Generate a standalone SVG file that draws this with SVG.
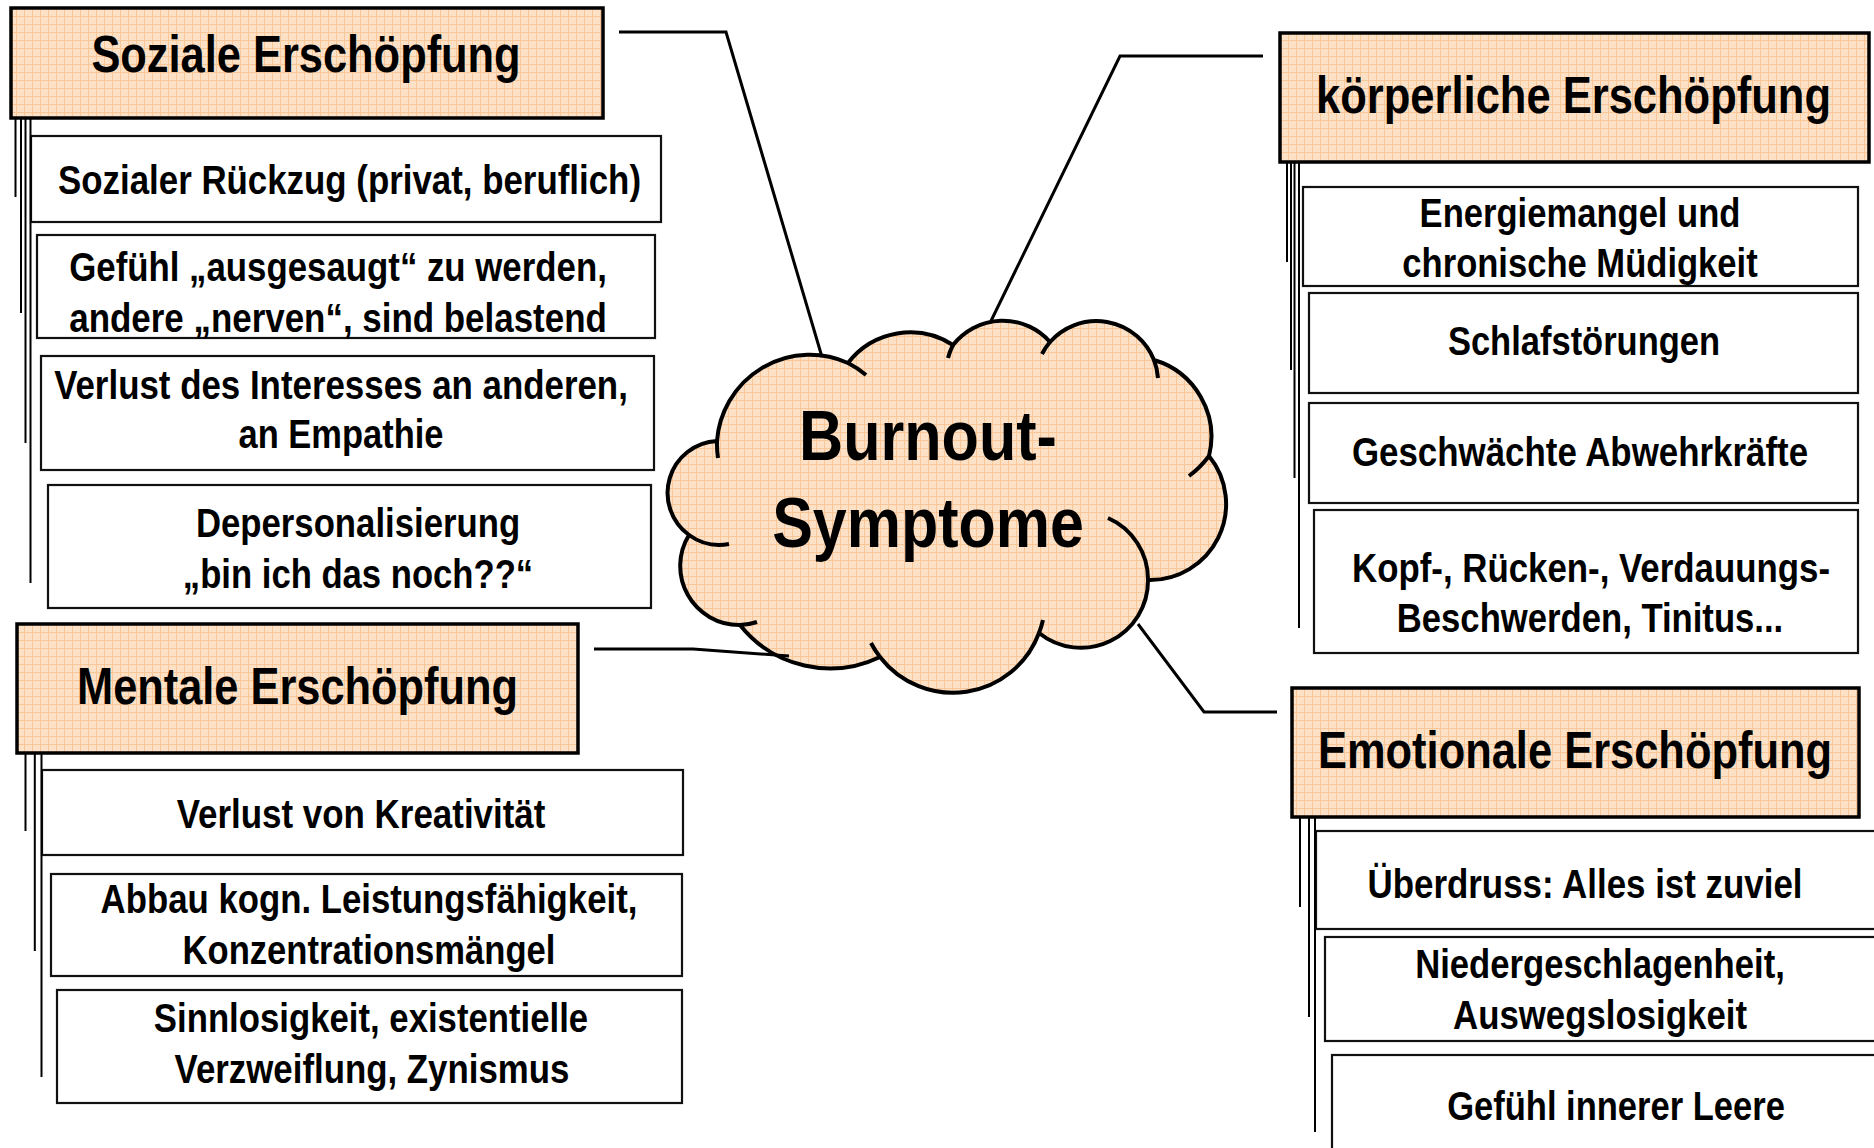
<svg xmlns="http://www.w3.org/2000/svg" width="1874" height="1148" viewBox="0 0 1874 1148">
<defs>
<pattern id="grid" width="8" height="8" patternUnits="userSpaceOnUse">
<rect width="8" height="8" fill="#FDE1C6"/>
<path d="M0 0.5H8M0.5 0V8" stroke="#F9C697" stroke-width="1"/>
</pattern>
</defs>
<style>
.hdr{fill:url(#grid);stroke:#000;stroke-width:3.5}
.box{fill:#fff;stroke:#111;stroke-width:2.2}
text{font-family:'Liberation Sans',Arial,sans-serif;font-weight:bold;fill:#000;text-anchor:middle}
.h{font-size:52px}
.t{font-size:41px}
.big{font-size:70px}
.conn{fill:none;stroke:#000;stroke-width:3}
.stem{fill:none;stroke:#000;stroke-width:2}
.cloud{fill:url(#grid);stroke:#000;stroke-width:4;stroke-linejoin:round}
.tick{fill:none;stroke:#000;stroke-width:4;stroke-linecap:butt}
</style>
<rect width="1874" height="1148" fill="#fff"/>

<g id="burnout">
<path class="cloud" d="M689 535A52 52 0 0 1 717 441A93 93 0 0 1 848 363A78.6 78.6 0 0 1 953 345A63 63 0 0 1 1050 342A62 62 0 0 1 1154 360A80 80 0 0 1 1209 456A76 76 0 0 1 1148 580A67 67 0 0 1 1039 633A92 92 0 0 1 880 657A115 115 0 0 1 740 625A59 59 0 0 1 689 535Z"/>
<path class="tick" d="M717 441A93 93 0 0 0 718 458M848 363A93 93 0 0 1 866 375M953 345A63 63 0 0 0 948 358M1050 342A62 62 0 0 0 1042 354M1154 360A62 62 0 0 1 1158 378M1209 456Q1200 468 1189 476M1108 518A67 67 0 0 1 1148 580M1043 620A92 92 0 0 1 1039 633M880 657A92 92 0 0 1 871 643M757 622A59 59 0 0 1 740 625M729 544A52 52 0 0 1 689 535"/>
<text class="big" transform="translate(928 460) scale(.84 1)" textLength="307" lengthAdjust="spacingAndGlyphs">Burnout-</text>
<text class="big" transform="translate(928 547) scale(.84 1)" textLength="371" lengthAdjust="spacingAndGlyphs">Symptome</text>
</g>

<g id="soziale">
<rect class="hdr" x="11" y="8" width="592" height="110"/>
<text class="h" transform="translate(306 72) scale(.84 1)" textLength="511" lengthAdjust="spacingAndGlyphs">Soziale Erschöpfung</text>
</g>
<g id="soziale-1">
<rect class="box" x="31" y="136" width="630" height="86"/>
<text class="t" transform="translate(349.5 194) scale(.84 1)" textLength="694" lengthAdjust="spacingAndGlyphs">Sozialer Rückzug (privat, beruflich)</text>
</g>
<g id="soziale-2">
<rect class="box" x="37" y="235" width="618" height="103"/>
<text class="t" transform="translate(338 281) scale(.84 1)" textLength="640" lengthAdjust="spacingAndGlyphs">Gefühl „ausgesaugt“ zu werden,</text>
<text class="t" transform="translate(338 332) scale(.84 1)" textLength="640" lengthAdjust="spacingAndGlyphs">andere „nerven“, sind belastend</text>
</g>
<g id="soziale-3">
<rect class="box" x="41" y="356" width="613" height="114"/>
<text class="t" transform="translate(341 399) scale(.84 1)" textLength="683" lengthAdjust="spacingAndGlyphs">Verlust des Interesses an anderen,</text>
<text class="t" transform="translate(341 448) scale(.84 1)" textLength="244" lengthAdjust="spacingAndGlyphs">an Empathie</text>
</g>
<g id="soziale-4">
<rect class="box" x="48" y="485" width="603" height="123"/>
<text class="t" transform="translate(358 537) scale(.84 1)" textLength="386" lengthAdjust="spacingAndGlyphs">Depersonalisierung</text>
<text class="t" transform="translate(358 588) scale(.84 1)" textLength="417" lengthAdjust="spacingAndGlyphs">„bin ich das noch??“</text>
</g>

<g id="mentale">
<rect class="hdr" x="17" y="624" width="561" height="129"/>
<text class="h" transform="translate(297.5 704) scale(.84 1)" textLength="525" lengthAdjust="spacingAndGlyphs">Mentale Erschöpfung</text>
</g>
<g id="mentale-1">
<rect class="box" x="42" y="770" width="641" height="85"/>
<text class="t" transform="translate(361 828) scale(.84 1)" textLength="439" lengthAdjust="spacingAndGlyphs">Verlust von Kreativität</text>
</g>
<g id="mentale-2">
<rect class="box" x="51" y="874" width="631" height="102"/>
<text class="t" transform="translate(369 913) scale(.84 1)" textLength="639" lengthAdjust="spacingAndGlyphs">Abbau kogn. Leistungsfähigkeit,</text>
<text class="t" transform="translate(369 964) scale(.84 1)" textLength="444" lengthAdjust="spacingAndGlyphs">Konzentrationsmängel</text>
</g>
<g id="mentale-3">
<rect class="box" x="57" y="990" width="625" height="113"/>
<text class="t" transform="translate(371 1032) scale(.84 1)" textLength="517" lengthAdjust="spacingAndGlyphs">Sinnlosigkeit, existentielle</text>
<text class="t" transform="translate(372 1083) scale(.84 1)" textLength="470" lengthAdjust="spacingAndGlyphs">Verzweiflung, Zynismus</text>
</g>

<g id="koerperliche">
<rect class="hdr" x="1280" y="33" width="589" height="129"/>
<text class="h" transform="translate(1573.5 113) scale(.84 1)" textLength="613" lengthAdjust="spacingAndGlyphs">körperliche Erschöpfung</text>
</g>
<g id="koerperliche-1">
<rect class="box" x="1303" y="187" width="555" height="99"/>
<text class="t" transform="translate(1580 227) scale(.84 1)" textLength="382" lengthAdjust="spacingAndGlyphs">Energiemangel und</text>
<text class="t" transform="translate(1580 277) scale(.84 1)" textLength="423" lengthAdjust="spacingAndGlyphs">chronische Müdigkeit</text>
</g>
<g id="koerperliche-2">
<rect class="box" x="1309" y="293" width="549" height="100"/>
<text class="t" transform="translate(1584 355) scale(.84 1)" textLength="324" lengthAdjust="spacingAndGlyphs">Schlafstörungen</text>
</g>
<g id="koerperliche-3">
<rect class="box" x="1309" y="403" width="549" height="100"/>
<text class="t" transform="translate(1580 466) scale(.84 1)" textLength="543" lengthAdjust="spacingAndGlyphs">Geschwächte Abwehrkräfte</text>
</g>
<g id="koerperliche-4">
<rect class="box" x="1314" y="510" width="544" height="143"/>
<text class="t" transform="translate(1591 582) scale(.84 1)" textLength="569" lengthAdjust="spacingAndGlyphs">Kopf-, Rücken-, Verdauungs-</text>
<text class="t" transform="translate(1590 632) scale(.84 1)" textLength="460" lengthAdjust="spacingAndGlyphs">Beschwerden, Tinitus...</text>
</g>

<g id="emotionale">
<rect class="hdr" x="1292" y="688" width="567" height="129"/>
<text class="h" transform="translate(1575 768) scale(.84 1)" textLength="612" lengthAdjust="spacingAndGlyphs">Emotionale Erschöpfung</text>
</g>
<g id="emotionale-1">
<rect class="box" x="1316" y="831" width="600" height="98"/>
<text class="t" transform="translate(1585 898) scale(.84 1)" textLength="518" lengthAdjust="spacingAndGlyphs">Überdruss: Alles ist zuviel</text>
</g>
<g id="emotionale-2">
<rect class="box" x="1325" y="937" width="600" height="104"/>
<text class="t" transform="translate(1600 978) scale(.84 1)" textLength="440" lengthAdjust="spacingAndGlyphs">Niedergeschlagenheit,</text>
<text class="t" transform="translate(1600 1029) scale(.84 1)" textLength="350" lengthAdjust="spacingAndGlyphs">Auswegslosigkeit</text>
</g>
<g id="emotionale-3">
<rect class="box" x="1332" y="1055" width="600" height="120"/>
<text class="t" transform="translate(1616 1120) scale(.84 1)" textLength="402" lengthAdjust="spacingAndGlyphs">Gefühl innerer Leere</text>
</g>

<g id="connectors">
<path class="conn" d="M619 32H726L822 357"/>
<path class="conn" d="M1263 56H1120L990 323"/>
<path class="conn" d="M594 649H693L789 656"/>
<path class="conn" d="M1138 624L1204 712H1277"/>
<path class="stem" d="M15.5 118V197M21 118V313M25.5 118V443M30.5 118V583"/>
<path class="stem" d="M25.5 752V831M34.8 752V951M41.5 752V1077"/>
<path class="stem" d="M1287 162V262M1291 162V370M1294.5 162V478M1299 162V628"/>
<path class="stem" d="M1300 817V907M1309 817V1017M1315 817V1132"/>
</g>
</svg>
